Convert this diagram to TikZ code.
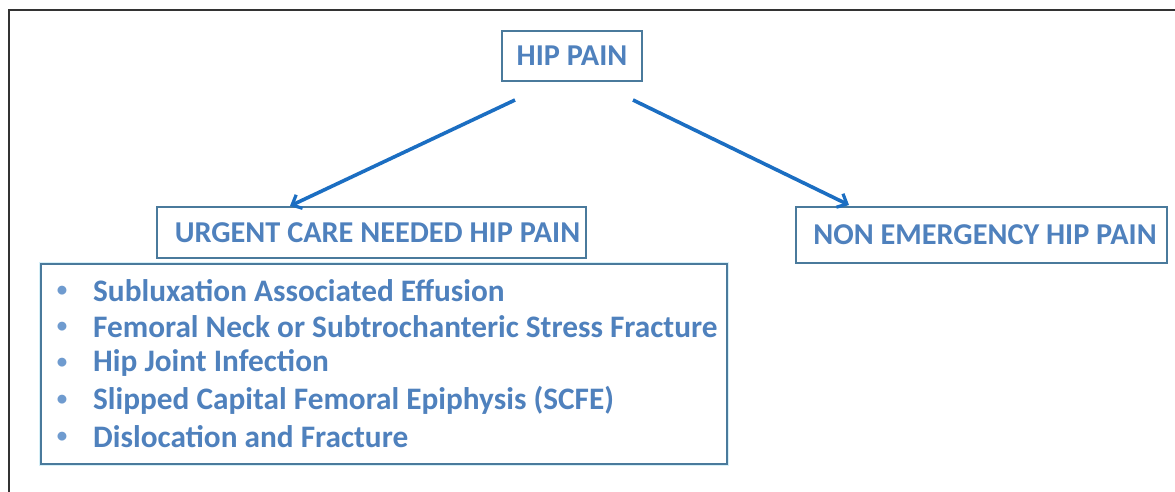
\documentclass[tikz,border=0pt]{standalone}
\usepackage{fontspec}
\setmainfont{Carlito}
\usetikzlibrary{arrows.meta}
\definecolor{txtblue}{HTML}{4F81BD}
\definecolor{boxline}{HTML}{4A7A9C}
\definecolor{arrblue}{HTML}{1B6EC2}
\definecolor{bulblue}{HTML}{6F9BCF}
\definecolor{glow}{HTML}{D6F0F8}
\tikzset{
  box/.style={draw=boxline, line width=1.2bp, fill=white, inner sep=0pt,
    text=txtblue, font=\fontsize{30.4}{36}\selectfont\bfseries},
  arr/.style={draw=arrblue, line width=3.6bp, -{Straight Barb[length=8bp,width=15bp,line width=3.2bp]}},
  item/.style={anchor=west, text=txtblue, inner sep=0pt, font=\fontsize{31.4}{36}\selectfont\bfseries},
  bul/.style={anchor=center, text=bulblue, inner sep=0pt, font=\fontsize{21}{24}\selectfont\bfseries},
}
\begin{document}
\begin{tikzpicture}[x=1bp,y=-1bp]
\useasboundingbox (0,0) rectangle (1175,492);
\fill[white] (0,0) rectangle (1175,492);
% outer frame (top and left edges)
\draw[line width=1.5bp, black!80] (9,492) -- (9,10) -- (1175,10);
% boxes
\node[box, minimum width=140bp, minimum height=50bp] (hip) at (572,56) {HIP PAIN};
\node[box, minimum width=429bp, minimum height=51bp] (urgent) at (371.5,232.5) {\hspace*{12bp}URGENT CARE NEEDED HIP PAIN};
\node[box, minimum width=371bp, minimum height=56bp] (non) at (981.5,235) {\hspace*{7bp}NON EMERGENCY HIP PAIN};
\draw[glow, line width=4bp] (41,264) rectangle (727,464);
\node[box, minimum width=686bp, minimum height=200bp] (list) at (384,364) {};
% list items
\foreach \y/\t [count=\i] in {291/{Subluxation Associated Effusion},
  327/{Femoral Neck or Subtrochanteric Stress Fracture},
  363/{Hip Joint Infection},
  400/{Slipped Capital Femoral Epiphysis (SCFE)},
  437/{Dislocation and Fracture}}{
  \node[bul] (b\i) at (62,\y) {\textbullet};
  \node[item] (it\i) at (93,\y) {\t};
}
% arrows
\coordinate (s1) at (515,100);
\coordinate (e1) at (290,206);
\coordinate (s2) at (633,100);
\coordinate (e2) at (849,205);
\draw[arr] (s1) -- (e1);
\draw[arr] (s2) -- (e2);
\end{tikzpicture}
\end{document}
